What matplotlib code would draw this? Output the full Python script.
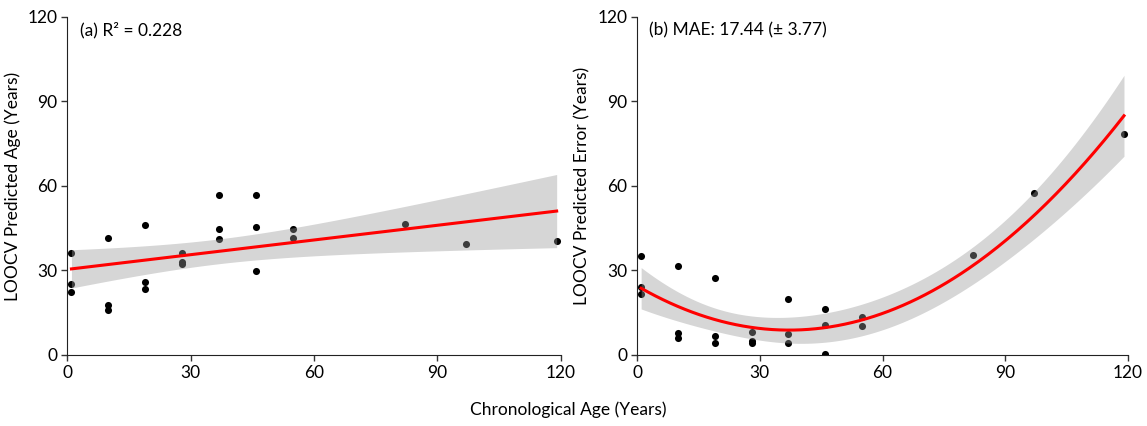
import numpy as np
import matplotlib
matplotlib.use('Agg')
import matplotlib.pyplot as plt

plt.rcParams['font.family'] = ['Lato', 'DejaVu Sans']

# chronological age of each sample (years)
age = [1, 1, 1, 10, 10, 10, 19, 19, 19, 28, 28, 28,
       37, 37, 37, 46, 46, 46, 55, 55, 82, 97, 119]
# LOOCV predicted age (panel a)
predicted = [36.3, 25.1, 22.5, 41.6, 17.8, 16.0, 46.2, 25.8, 23.4, 36.3, 33.1, 32.2,
             56.8, 44.6, 41.1, 56.8, 45.5, 29.8, 44.7, 41.6, 46.4, 39.4, 40.6]
# LOOCV prediction error (panel b)
error = [35.3, 24.1, 21.5, 31.6, 7.8, 6.0, 27.2, 6.8, 4.4, 8.3, 5.1, 4.2,
         19.8, 7.6, 4.1, 10.8, 0.5, 16.2, 10.3, 13.4, 35.6, 57.6, 78.4]

ticks = [0, 30, 60, 90, 120]
label_a = '(a) R² = 0.228'
label_b = '(b) MAE: 17.44 (± 3.77)'


def fit_ci(x, y, deg, t_crit):
    # polynomial least squares fit with 95% confidence band
    x = np.asarray(x, float)
    y = np.asarray(y, float)
    X = np.vander(x, deg + 1)
    beta, res, _, _ = np.linalg.lstsq(X, y, rcond=None)
    dof = len(x) - (deg + 1)
    s2 = np.sum((y - X @ beta) ** 2) / dof
    cov = s2 * np.linalg.inv(X.T @ X)
    xs = np.linspace(x.min(), x.max(), 200)
    Xs = np.vander(xs, deg + 1)
    yfit = Xs @ beta
    se = np.sqrt(np.einsum('ij,jk,ik->i', Xs, cov, Xs))
    return xs, yfit, yfit - t_crit * se, yfit + t_crit * se


fig = plt.figure(figsize=(11.47, 4.26), dpi=100)
ax1 = fig.add_axes([0.0587, 0.1667, 0.4302, 0.7934])
ax2 = fig.add_axes([0.5554, 0.1667, 0.4281, 0.7934])

panels = [
    (ax1, predicted, 1, 2.080, 'LOOCV Predicted Age (Years)', label_a),
    (ax2, error, 2, 2.086, 'LOOCV Predicted Error (Years)', label_b),
]

for ax, yvals, deg, t_crit, ylab, lab in panels:
    ax.scatter(age, yvals, s=26, color='black', zorder=2, linewidths=0)
    xs, yfit, lo, hi = fit_ci(age, yvals, deg, t_crit)
    ax.fill_between(xs, lo, hi, color='#999999', alpha=0.4, linewidth=0, zorder=3)
    ax.plot(xs, yfit, color='red', lw=2.2, zorder=4)
    ax.set_xlim(0, 120)
    ax.set_ylim(0, 120)
    ax.set_xticks(ticks)
    ax.set_yticks(ticks)
    ax.spines['top'].set_visible(False)
    ax.spines['right'].set_visible(False)
    ax.spines['left'].set_color('#222222')
    ax.spines['bottom'].set_color('#222222')
    ax.tick_params(direction='out', length=4, width=1, color='#333333',
                   labelsize=12.5, pad=3)
    ax.set_ylabel(ylab, fontsize=12.5, labelpad=5)
    ax.text(0.025, 0.985, lab, transform=ax.transAxes, fontsize=12.5,
            ha='left', va='top')

fig.text(0.495, 0.025, 'Chronological Age (Years)', fontsize=12.5, ha='center')

fig.savefig('out.png', dpi=100)
